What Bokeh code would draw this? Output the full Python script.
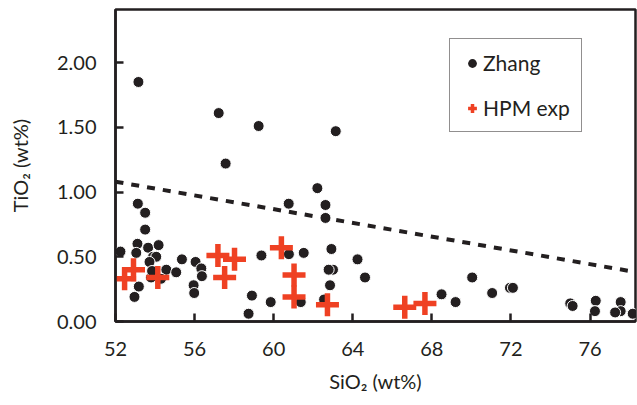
import numpy as np
from bokeh.plotting import figure
from bokeh.models import Range1d, FixedTicker, NumeralTickFormatter, Legend, LegendItem
from bokeh.embed import file_html
from bokeh.resources import INLINE

# ---- data ----
zhang_sio2 = [53.16, 57.22, 59.24, 57.57, 63.14,
              62.21, 60.76, 62.62, 62.62,
              53.13, 53.50, 53.50,
              52.25, 53.11, 53.65, 54.18, 53.05, 53.90, 54.06, 53.72, 54.57, 55.07,
              55.36, 56.05, 56.34, 56.37, 55.95, 55.98, 53.18, 52.96, 53.80, 53.85, 54.30,
              59.38, 60.77, 61.52, 62.92, 63.00, 62.78, 62.85, 58.90, 59.85, 58.73, 61.37, 62.55,
              64.24, 64.62, 68.49, 69.20,
              70.04, 71.05, 71.95, 72.10, 75.00, 75.12, 76.29, 76.25, 77.55, 77.55, 77.27, 78.16]
zhang_tio2 = [1.85, 1.61, 1.51, 1.22, 1.47,
              1.03, 0.91, 0.90, 0.80,
              0.91, 0.84, 0.71,
              0.54, 0.60, 0.57, 0.59, 0.53, 0.50, 0.50, 0.46, 0.40, 0.38,
              0.48, 0.46, 0.41, 0.35, 0.28, 0.22, 0.27, 0.19, 0.34, 0.39, 0.33,
              0.51, 0.52, 0.53, 0.56, 0.40, 0.40, 0.28, 0.20, 0.15, 0.06, 0.15, 0.17,
              0.48, 0.34, 0.21, 0.15,
              0.34, 0.22, 0.26, 0.26, 0.14, 0.12, 0.16, 0.08, 0.15, 0.08, 0.07, 0.06]

hpm_sio2 = [52.46, 52.91, 54.14, 57.18, 57.52, 58.02, 60.39, 61.03, 61.03, 62.72, 66.63, 67.65]
hpm_tio2 = [0.33, 0.40, 0.34, 0.51, 0.34, 0.48, 0.57, 0.36, 0.19, 0.13, 0.11, 0.14]

trend_sio2 = [52.0, 78.0]
trend_tio2 = [1.08, 0.39]

x_ticks = [52, 56, 60, 64, 68, 72, 76]
y_ticks = [0.0, 0.5, 1.0, 1.5, 2.0]

INK = "#231F20"
RED = "#EF4123"
FONT = "Lato"

p = figure(width=637, height=405, output_backend="svg", toolbar_location=None,
           x_range=Range1d(52, 78.3), y_range=Range1d(0, 2.41),
           min_border_left=115, min_border_right=2, min_border_top=9, min_border_bottom=84)

p.xgrid.visible = False
p.ygrid.visible = False
p.outline_line_color = INK
p.outline_line_width = 2.5
p.background_fill_color = "white"
p.border_fill_color = "white"

p.line(trend_sio2, trend_tio2, line_color=INK, line_width=4, line_dash="8 8")

dots = p.scatter(zhang_sio2, zhang_tio2, marker="circle", size=11,
                 fill_color=INK, line_color="white", line_width=1)
crosses = p.scatter(hpm_sio2, hpm_tio2, marker="cross", size=23,
                    line_color=RED, line_width=5.5)

# legend proxies (not drawn in the plot area)
leg_dot = p.scatter([np.nan], [np.nan], marker="circle", size=9, fill_color=INK, line_color=None)
leg_cross = p.scatter([np.nan], [np.nan], marker="cross", size=9, line_color=RED, line_width=3.5)

for ax in (p.xaxis[0], p.yaxis[0]):
    ax.axis_line_color = INK
    ax.axis_line_width = 2.5
    ax.major_tick_line_color = INK
    ax.major_tick_line_width = 2.5
    ax.major_tick_in = 8
    ax.major_tick_out = 0
    ax.minor_tick_line_color = None
    ax.major_label_text_font = FONT
    ax.major_label_text_font_size = "20px"
    ax.major_label_text_color = INK
    ax.axis_label_text_font = FONT
    ax.axis_label_text_font_size = "20px"
    ax.axis_label_text_font_style = "normal"
    ax.axis_label_text_color = INK

p.xaxis.ticker = FixedTicker(ticks=x_ticks)
p.yaxis.ticker = FixedTicker(ticks=y_ticks)
p.yaxis.formatter = NumeralTickFormatter(format="0.00")
p.xaxis.major_label_standoff = 20
p.yaxis.major_label_standoff = 19
p.xaxis.axis_label = "SiO₂ (wt%)"
p.yaxis.axis_label = "TiO₂ (wt%)"
p.xaxis.axis_label_standoff = 10
p.yaxis.axis_label_standoff = 22

legend = Legend(items=[LegendItem(label="Zhang", renderers=[leg_dot]),
                       LegendItem(label="HPM exp", renderers=[leg_cross])],
                location=(334, 189), margin=0, padding=11, spacing=20,
                glyph_width=22, glyph_height=22, label_standoff=0,
                label_text_font=FONT, label_text_font_size="21px", label_text_color=INK,
                border_line_color=INK, border_line_width=1.5,
                background_fill_color="white", background_fill_alpha=1.0)
p.add_layout(legend)

open("out.html", "w").write(file_html(p, INLINE))
